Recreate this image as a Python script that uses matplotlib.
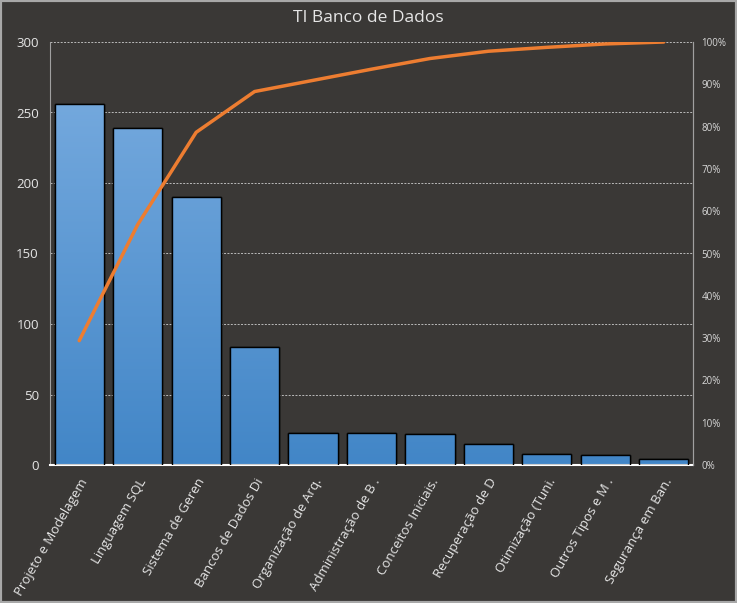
import numpy as np
import matplotlib.pyplot as plt
from matplotlib.patches import Rectangle
from matplotlib.ticker import FuncFormatter
from matplotlib.colors import LinearSegmentedColormap

categorias = ['Projeto e Modelagem', 'Linguagem SQL', 'Sistema de Geren',
              'Bancos de Dados Di', 'Organização de Arq.', 'Administração de B .',
              'Conceitos Iniciais.', 'Recuperação de D', 'Otimização (Tuni.',
              'Outros Tipos e M .', 'Segurança em Ban.']
valores = [256, 239, 190, 84, 23, 23, 22, 15, 8, 7, 4]

fundo = '#3a3836'
texto = '#e6e6e6'

plt.rcParams['font.family'] = ['Open Sans', 'DejaVu Sans']

acum = np.cumsum(valores) / np.sum(valores) * 100
x = np.arange(len(valores))

fig = plt.figure(figsize=(7.37, 6.03), dpi=100, facecolor=fundo)
ax = fig.add_axes([50 / 737, 1 - 465 / 603, 643 / 737, 423 / 603])
ax.set_facecolor(fundo)

# barras com gradiente comum (mais claro no topo da maior barra)
barras = ax.bar(x, valores, width=0.84, color='#4a8ccc', edgecolor='black',
                linewidth=1.0, zorder=2)
grad = np.linspace(0, 1, 256).reshape(-1, 1)
cmap = LinearSegmentedColormap.from_list('azul', ['#4286c7', '#73a8dd'])
topo = max(valores)
for b in barras:
    x0, w, h = b.get_x(), b.get_width(), b.get_height()
    im = ax.imshow(grad, extent=(x0, x0 + w, 0, topo), origin='lower', cmap=cmap,
                   aspect='auto', zorder=2.5)
    im.set_clip_path(b)
    ax.add_patch(Rectangle((x0, 0), w, h, fill=False, edgecolor='black',
                           linewidth=1.0, zorder=3))

ax.set_xlim(-0.5, len(valores) - 0.5)
ax.set_ylim(0, 300)
ax.set_yticks(range(0, 301, 50))
ax.grid(axis='y', color='#bbbbbb', linestyle=(0, (2, 1.5)), linewidth=0.7, zorder=1)
ax.set_axisbelow(True)

ax.set_xticks(x)
ax.set_xticklabels(categorias, rotation=60, ha='right', rotation_mode='anchor',
                   fontsize=9.5, color=texto)
ax.tick_params(axis='x', length=0, pad=8)
ax.tick_params(axis='y', length=0, colors=texto, labelsize=9.5, pad=8)

ax.spines['top'].set_visible(False)
ax.spines['left'].set_color('#a0a0a0')
ax.spines['right'].set_color('#a0a0a0')
ax.spines['bottom'].set_color('white')
ax.spines['bottom'].set_linewidth(1.5)

ax2 = ax.twinx()
ax2.plot(x, acum, color='#ed7d31', linewidth=2.5, zorder=5, solid_capstyle='round')
ax2.set_ylim(0, 100)
ax2.set_yticks(range(0, 101, 10))
ax2.yaxis.set_major_formatter(FuncFormatter(lambda v, p: f'{v:.0f}%'))
ax2.tick_params(axis='y', length=0, colors='#d8d8d8', labelsize=7, pad=6)
for s in ['top', 'left', 'bottom']:
    ax2.spines[s].set_visible(False)
ax2.spines['right'].set_color('#a0a0a0')

fig.text(0.5, 1 - 18 / 603, 'TI Banco de Dados', ha='center', va='center',
         fontsize=12.5, color=texto)

fig.patches.append(Rectangle((0, 0), 1, 1, transform=fig.transFigure, fill=False,
                             edgecolor='#a8a8a8', linewidth=3))

fig.savefig('out.png', dpi=100, facecolor=fundo)
